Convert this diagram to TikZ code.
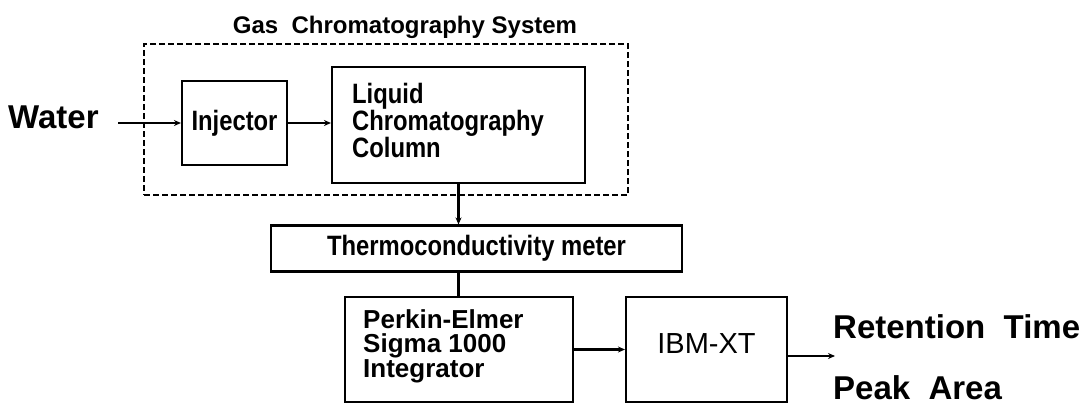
\documentclass[tikz,border=0pt]{standalone}
\usepackage{fontspec}
\setmainfont{Liberation Sans}
\newfontfamily\condfont[FakeStretch=0.85]{Liberation Sans}
\usetikzlibrary{arrows.meta}
\begin{document}
\begin{tikzpicture}[x=1pt,y=-1pt,
  box/.style={draw, line width=2.1pt, inner sep=0pt},
  arr/.style={line width=2.2pt, -{Stealth[length=7pt,width=6pt]}},
  conn/.style={line width=2.2pt},
  big/.style={font=\bfseries\fontsize{33}{40}\selectfont, inner sep=0pt},
  cond/.style={font=\condfont\bfseries\fontsize{28}{22.5}\selectfont},
]
\useasboundingbox (0,0) rectangle (1084,407);
\node[draw, dash pattern=on 6pt off 3pt, line width=1.9pt, minimum width=484pt, minimum height=151pt] (gcs) at (386,119.5) {};
\node[anchor=base, font=\bfseries\fontsize{24}{30}\selectfont, inner sep=0pt] (title) at (405,33) {Gas\ \ Chromatography System};
\node[box, cond, minimum width=105pt, minimum height=84pt] (inj) at (234.5,123) {Injector};
\node[box, minimum width=253pt, minimum height=116pt] (lc) at (458.5,125) {};
\node[cond, anchor=north west, inner sep=0pt, align=left] (lctext) at (352,83) {Liquid\\Chromatography\\Column};
\node[box, cond, minimum width=411pt, minimum height=46pt] (thermo) at (476.5,248.5) {Thermoconductivity meter};
\node[box, minimum width=228pt, minimum height=105pt] (pe) at (459,349.5) {};
\node[anchor=north west, inner sep=0pt, align=left, font=\bfseries\fontsize{26}{24.5}\selectfont] (petext) at (363,309) {Perkin-Elmer\\Sigma 1000\\Integrator};
\node[box, font=\fontsize{29}{30}\selectfont, minimum width=161pt, minimum height=105pt, text depth=11pt] (ibm) at (706.5,349.5) {IBM-XT};
\node[big, anchor=base west] (water) at (8,128) {Water};
\coordinate (win) at (118,123);
\node[big, anchor=base west] (rt) at (833,338) {Retention\ \ Time};
\node[big, anchor=base west] (pa) at (833,399) {Peak\ \ Area};
\coordinate (out) at (835,356);
\draw[arr] (win) -- (win -| inj.west);
\draw[arr] (inj.east) -- (inj.east -| lc.west);
\draw[arr] (lc.south) -- (lc.south |- thermo.north);
\draw[conn] (thermo.south -| lc.south) -- (pe.north -| lc.south);
\draw[arr] (pe.east) -- (ibm.west);
\draw[arr] (ibm.east |- out) -- (out);
\end{tikzpicture}
\end{document}
